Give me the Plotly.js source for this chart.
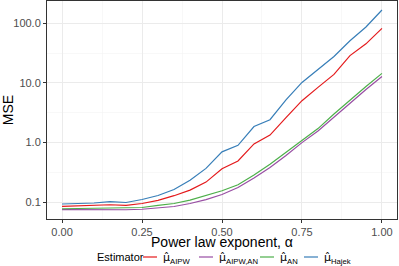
<!DOCTYPE html>
<html><head><meta charset="utf-8">
<script src="https://cdn.plot.ly/plotly-3.0.1.min.js"></script>
<style>html,body{margin:0;padding:0;background:#fff}#chart{width:399px;height:266px}</style>
</head><body><div id="chart"></div>
<script>
const alpha = [0.00,0.05,0.10,0.15,0.20,0.25,0.30,0.35,0.40,0.45,0.50,0.55,0.60,0.65,0.70,0.75,0.80,0.85,0.90,0.95,1.00];
const mseAIPW   = [0.0857,0.0867,0.0877,0.091,0.089,0.0955,0.108,0.129,0.160,0.218,0.365,0.492,0.95,1.34,2.62,5.05,8.43,13.9,28.8,45.3,82.4];
const mseAIPWAN = [0.0752,0.075,0.0745,0.075,0.075,0.0765,0.0804,0.0851,0.0955,0.111,0.135,0.177,0.255,0.383,0.608,1.00,1.57,2.69,4.61,7.78,12.8];
const mseAN     = [0.078,0.0785,0.0785,0.079,0.079,0.0818,0.0885,0.0955,0.109,0.132,0.156,0.197,0.287,0.434,0.684,1.11,1.72,3.02,5.19,8.73,14.5];
const mseHajek  = [0.0937,0.0955,0.0973,0.1023,0.0993,0.1114,0.130,0.164,0.235,0.370,0.70,0.90,1.86,2.42,5.19,10.2,16.8,27.8,51.1,86.7,167];
const hat = '<span style="font-family:DejaVu Sans">μ̂</span>';
const seriesNames = [hat+'<sub>AIPW</sub>', hat+'<sub>AIPW,AN</sub>', hat+'<sub>AN</sub>', hat+'<sub>Hajek</sub>'];
const seriesColors = ['#E41A1C','#984EA3','#4DAF4A','#377EB8'];
const seriesData = [mseAIPW, mseAIPWAN, mseAN, mseHajek];
const yTickVals = [0.1, 1, 10, 100];
const yTickText = ['0.1','1.0','10.0','100.0'];
const xTickVals = [0, 0.25, 0.5, 0.75, 1];
const xTickText = ['0.00','0.25','0.50','0.75','1.00'];

const traces = seriesData.map((d,i)=>({
  x: alpha, y: d, type:'scatter', mode:'lines', name: seriesNames[i],
  line:{color: seriesColors[i], width:1.2}
}));

const layout = {
  width:399, height:266,
  margin:{l:47, r:2, t:1, b:47, autoexpand:false},
  paper_bgcolor:'#fff', plot_bgcolor:'#fff',
  font:{family:'Liberation Sans, Arial, sans-serif', size:11, color:'#000'},
  showlegend:true,
  xaxis:{
    range:[-0.047,1.047], tickmode:'array', tickvals:xTickVals, ticktext:xTickText,
    showgrid:true, gridcolor:'#EBEBEB', gridwidth:1, zeroline:false,
    minor:{tickmode:'array', tickvals:[0.125,0.375,0.625,0.875], showgrid:true, gridcolor:'#F4F4F4', gridwidth:0.6, ticks:''},
    showline:true, mirror:true, linecolor:'#333333', linewidth:1,
    ticks:'outside', ticklen:3, tickcolor:'#333333', tickwidth:1,
    tickfont:{size:11, color:'#4D4D4D'},
    title:{text:'Power law exponent, α', font:{size:14, color:'#000'}, standoff:11}
  },
  yaxis:{
    type:'log', range:[-1.28, 2.374], tickmode:'array', tickvals:yTickVals, ticktext:yTickText,
    showgrid:true, gridcolor:'#EBEBEB', gridwidth:1, zeroline:false,
    minor:{tickmode:'array', tickvals:[0.316,3.16,31.6,316], showgrid:true, gridcolor:'#F4F4F4', gridwidth:0.6, ticks:''},
    showline:true, mirror:true, linecolor:'#333333', linewidth:1,
    ticks:'outside', ticklen:3, tickcolor:'#333333', tickwidth:1,
    tickfont:{size:11, color:'#4D4D4D'},
    title:{text:'MSE', font:{size:14, color:'#000'}, standoff:4}
  },
  legend:{
    orientation:'h', x:0.5, xanchor:'center', yref:'container', y:0.034, yanchor:'middle',
    title:{text:'Estimator', side:'left', font:{size:11}},
    font:{size:11, color:'#000'}, bgcolor:'rgba(0,0,0,0)', tracegroupgap:0
  }
};

// legend geometry (reference pixels): short key lines, compact spacing
const legendLineStarts = [143, 199, 260, 304];
const legendLineLen = 14;
const legendY = 257;
const legendTitleX = 97;
const xTitleCenterY = 242;

function parseTr(el){
  const t = el.getAttribute('transform') || '';
  const m = t.match(/translate\(\s*([-\d.e]+)[ ,]*([-\d.e]*)\s*\)/);
  return m ? [parseFloat(m[1]), parseFloat(m[2]||0)] : [0,0];
}

Plotly.newPlot('chart', traces, layout, {displayModeBar:false, staticPlot:true}).then(gd=>{
  const sb = gd.querySelector('.legend .scrollbox');
  if (sb) sb.removeAttribute('clip-path');
  const lg = gd.querySelector('.legend');
  if (lg) lg.removeAttribute('clip-path');
  gd.querySelectorAll('.legend .traces').forEach((it,i)=>{
    const path = it.querySelector('.legendlines path');
    if (!path) return;
    path.setAttribute('d','M0,0h'+legendLineLen);
    const txt = it.querySelector('text.legendtext');
    if (txt) txt.setAttribute('x', legendLineLen + 6);
    const m = path.getCTM();
    const [a,b] = parseTr(it);
    it.setAttribute('transform', 'translate('+(a + legendLineStarts[i] - m.e)+','+(b + legendY - m.f)+')');
  });
  const title = gd.querySelector('.legend .legendtitletext');
  if (title) {
    const tm = title.getCTM();
    const bb = title.getBBox();
    const curX = tm.e + bb.x;
    const curMid = tm.f + bb.y + bb.height/2;
    const ox = parseFloat(title.getAttribute('x')||0), oy = parseFloat(title.getAttribute('y')||0);
    title.setAttribute('x', ox + legendTitleX - curX);
    title.setAttribute('y', oy + legendY - curMid);
    title.querySelectorAll('tspan[x]').forEach(ts=>ts.setAttribute('x', parseFloat(ts.getAttribute('x')) + legendTitleX - curX));
  }
  // place x-axis title below the tick labels as in the reference
  const xt = gd.querySelector('.g-xtitle text');
  if (xt) {
    const bb = xt.getBBox();
    const cm = xt.getCTM();
    const mid = cm.f + bb.y + bb.height/2;
    const oy = parseFloat(xt.getAttribute('y')||0);
    xt.setAttribute('y', oy + xTitleCenterY - mid);
  }
});
</script></body></html>
